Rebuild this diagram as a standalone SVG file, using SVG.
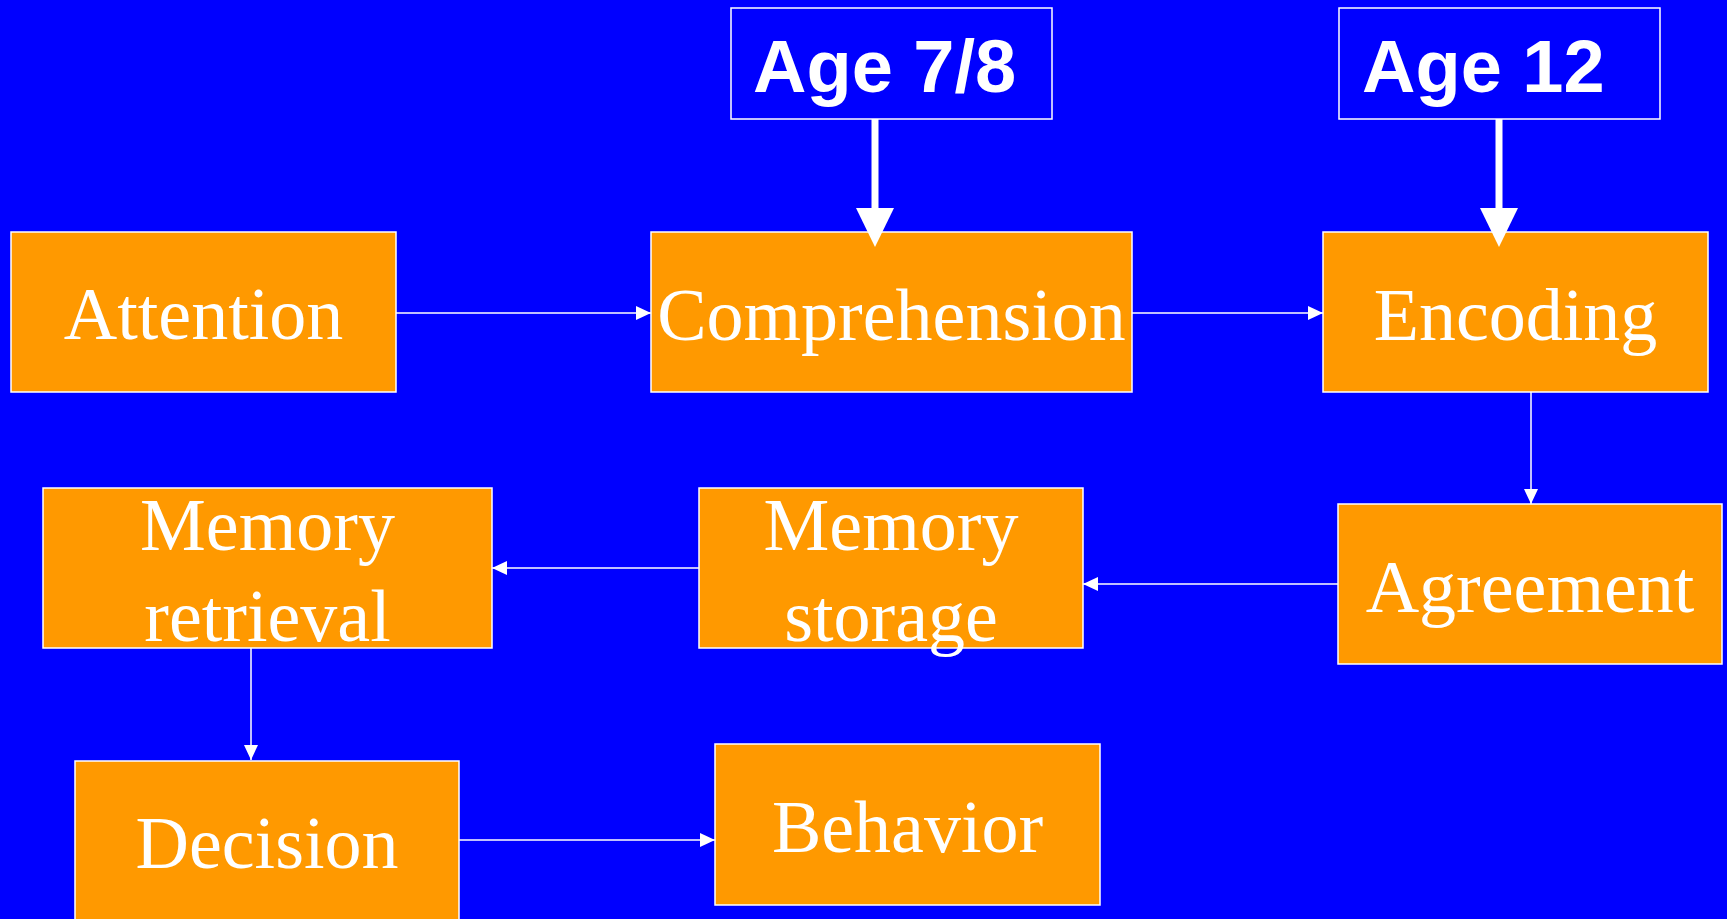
<svg xmlns="http://www.w3.org/2000/svg" width="1727" height="919" viewBox="0 0 1727 919">
<defs>
<style>
.box{fill:#FF9900;stroke:#FFFFFF;stroke-width:1.5}
.age{fill:#0000FF;stroke:#FFFFFF;stroke-width:1.5}
.t{font-family:"Liberation Serif","Times New Roman",serif;font-size:74px;fill:#FFFFFF;text-anchor:middle}
.a{font-family:"Liberation Sans",Arial,sans-serif;font-size:74px;font-weight:bold;fill:#FFFFFF}
.thin{stroke:#FFFFFF;stroke-width:1.5;fill:none}
.thick{stroke:#FFFFFF;stroke-width:7;fill:none}
</style>
<marker id="ah" markerUnits="userSpaceOnUse" viewBox="0 0 15 14" refX="15" refY="7" markerWidth="15" markerHeight="14" orient="auto">
<path d="M0,0 L15,7 L0,14 Z" fill="#FFFFFF"/>
</marker>
</defs>
<rect x="0" y="0" width="1727" height="919" fill="#0000FF"/>
<g id="age78">
<rect class="age" x="731" y="8" width="321" height="111"/>
<text class="a" x="753" y="92">Age 7/8</text>
</g>
<g id="age12">
<rect class="age" x="1339" y="8" width="321" height="111"/>
<text class="a" x="1362" y="92">Age 12</text>
</g>
<g id="attention">
<rect class="box" x="11" y="232" width="385" height="160"/>
<text class="t" x="203.5" y="339">Attention</text>
</g>
<g id="comprehension">
<rect class="box" x="651" y="232" width="481" height="160"/>
<text class="t" x="891.5" y="340">Comprehension</text>
</g>
<g id="encoding">
<rect class="box" x="1323" y="232" width="385" height="160"/>
<text class="t" x="1515.5" y="340">Encoding</text>
</g>
<g id="agreement">
<rect class="box" x="1338" y="504" width="384" height="160"/>
<text class="t" x="1530" y="612">Agreement</text>
</g>
<g id="memory-storage">
<rect class="box" x="699" y="488" width="384" height="160"/>
<text class="t" x="891" y="550">Memory</text>
<text class="t" x="891" y="641">storage</text>
</g>
<g id="memory-retrieval">
<rect class="box" x="43" y="488" width="449" height="160"/>
<text class="t" x="267.5" y="550">Memory</text>
<text class="t" x="267.5" y="641">retrieval</text>
</g>
<g id="decision">
<rect class="box" x="75" y="761" width="384" height="170"/>
<text class="t" x="267" y="868">Decision</text>
</g>
<g id="behavior">
<rect class="box" x="715" y="744" width="385" height="161"/>
<text class="t" x="907.5" y="852">Behavior</text>
</g>
<g id="connectors">
<line class="thin" x1="396" y1="313" x2="651" y2="313" marker-end="url(#ah)"/>
<line class="thin" x1="1132" y1="313" x2="1323" y2="313" marker-end="url(#ah)"/>
<line class="thin" x1="1531" y1="392" x2="1531" y2="504" marker-end="url(#ah)"/>
<line class="thin" x1="1338" y1="584" x2="1083" y2="584" marker-end="url(#ah)"/>
<line class="thin" x1="699" y1="568" x2="492" y2="568" marker-end="url(#ah)"/>
<line class="thin" x1="251" y1="648" x2="251" y2="760" marker-end="url(#ah)"/>
<line class="thin" x1="459" y1="840" x2="715" y2="840" marker-end="url(#ah)"/>
<line class="thick" x1="875" y1="119" x2="875" y2="210"/>
<path d="M856,208 L894,208 L875,247 Z" fill="#FFFFFF"/>
<line class="thick" x1="1499" y1="119" x2="1499" y2="210"/>
<path d="M1480,208 L1518,208 L1499,247 Z" fill="#FFFFFF"/>
</g>
</svg>
